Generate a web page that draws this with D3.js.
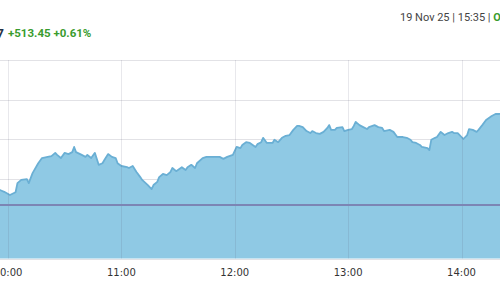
<!DOCTYPE html>
<html lang="en">
<head>
<meta charset="UTF-8">
<title>Intraday</title>
<script src="https://d3js.org/d3.v7.min.js"></script>
<style>
  body { margin: 0; background: #fff; }
  svg { display: block; }
</style>
</head>
<body>
<svg id="chart" width="500" height="300"></svg>
<script>
// ---- data ----
const times = ["09:54","09:56","09:58","10:01","10:04","10:05","10:07","10:10","10:11","10:13","10:16","10:18","10:21","10:23","10:25","10:26","10:28","10:30","10:32","10:34","10:35","10:36","10:39","10:41","10:42","10:44","10:46","10:48","10:50","10:51","10:53","10:55","10:57","10:58",
  "11:00","11:03","11:04","11:06","11:08","11:10","11:11","11:14","11:16","11:17","11:19","11:20","11:22","11:24","11:26","11:27","11:29","11:32","11:34","11:35","11:37","11:39","11:40","11:43","11:45","11:48","11:52","11:54","11:56","11:59",
  "12:01","12:03","12:04","12:06","12:08","12:11","12:12","12:14","12:15","12:17","12:20","12:21","12:23","12:25","12:27","12:29","12:31","12:33","12:34","12:36","12:38","12:40","12:41","12:43","12:45","12:47","12:49","12:50","12:51","12:53","12:54","12:57","12:58",
  "13:00","13:02","13:03","13:04","13:06","13:08","13:10","13:11","13:14","13:16","13:18","13:19","13:22","13:24","13:26","13:27","13:29","13:31","13:33","13:34","13:36","13:38","13:39","13:42","13:43","13:44","13:46","13:47","13:49","13:51","13:53","13:55","13:56","13:58",
  "14:01","14:03","14:04","14:06","14:08","14:09","14:11","14:13","14:16","14:18","14:20","14:22"];

const values = [84675,84672,84668,84660,84667,84690,84698,84700,84690,84715,84740,84753,84756,84758,84766,84761,84753,84766,84763,84768,84781,84768,84761,84756,84761,84753,84766,84736,84740,84748,84763,84756,84753,84740,
  84733,84730,84728,84733,84718,84705,84698,84685,84675,84685,84693,84705,84713,84710,84718,84728,84720,84730,84723,84730,84736,84728,84740,84753,84756,84756,84756,84751,84756,84761,
  84781,84778,84786,84793,84791,84781,84788,84793,84804,84791,84791,84799,84793,84804,84809,84811,84824,84834,84834,84831,84821,84816,84821,84816,84814,84819,84829,84836,84824,84824,84829,84831,84821,
  84824,84826,84834,84844,84836,84831,84826,84831,84836,84831,84829,84821,84824,84819,84806,84806,84806,84804,84799,84793,84791,84786,84781,84778,84773,84799,84804,84806,84819,84811,84816,84819,84816,84816,
  84801,84811,84826,84824,84819,84824,84836,84849,84859,84864,84864,84866];

const prevClose = 84635;
const hourTicks = ["10:00","11:00","12:00","13:00","14:00"];
const valueTicks = [84500, 84600, 84700, 84800, 84900, 85000];

const changeText = "+513.45 +0.61%";
const lastText = "85,186.47";
const stampText = "19 Nov 25 | 15:35 | ";
const statusText = "Open";

// ---- helpers ----
const parseTime = (t) => d3.timeParse("%Y-%m-%d %H:%M")("2025-11-19 " + t);

const points = times.map((t, i) => ({ t: parseTime(t), v: values[i] }));

// ---- scales ----
const x = d3.scaleTime()
  .domain([parseTime("10:00"), parseTime("14:00")])
  .range([8, 461.5]);

const y = d3.scaleLinear()
  .domain([84500, 85000])
  .range([258.5, 60]);

const svg = d3.select("#chart");
const plotTop = 60, plotBottom = 258.5;

// horizontal grid (behind the area)
svg.append("g").selectAll("line").data(valueTicks).join("line")
  .attr("x1", 0).attr("x2", 500)
  .attr("y1", d => Math.round(y(d)) + 0.5).attr("y2", d => Math.round(y(d)) + 0.5)
  .attr("stroke", "#e2e2e6").attr("stroke-width", 1);

// area + line
const area = d3.area()
  .x(d => x(d.t)).y0(plotBottom).y1(d => y(d.v));
const line = d3.line()
  .x(d => x(d.t)).y(d => y(d.v));

svg.append("path").datum(points)
  .attr("d", area)
  .attr("fill", "#8fc9e4");

svg.append("path").datum(points)
  .attr("d", line)
  .attr("fill", "none")
  .attr("stroke", "#6aafd4")
  .attr("stroke-width", 1.8)
  .attr("stroke-linejoin", "round");

// vertical grid (on top, faint)
svg.append("g").selectAll("line").data(hourTicks).join("line")
  .attr("x1", d => Math.round(x(parseTime(d))) + 0.5)
  .attr("x2", d => Math.round(x(parseTime(d))) + 0.5)
  .attr("y1", plotTop).attr("y2", plotBottom)
  .attr("stroke", "#5a5a78").attr("stroke-opacity", 0.14);

// previous close line
svg.append("line")
  .attr("x1", 0).attr("x2", 500)
  .attr("y1", y(prevClose)).attr("y2", y(prevClose))
  .attr("stroke", "#7c85b4").attr("stroke-width", 2);

// x-axis labels
svg.append("g").selectAll("text").data(hourTicks).join("text")
  .attr("x", d => x(parseTime(d)))
  .attr("y", 276)
  .attr("text-anchor", "middle")
  .attr("font-family", "DejaVu Sans, Verdana, sans-serif")
  .attr("font-size", 10)
  .attr("fill", "#333")
  .text(d => d);

// header
svg.append("text")
  .attr("x", 4).attr("y", 38)
  .attr("text-anchor", "end")
  .attr("font-family", "Roboto, sans-serif")
  .attr("font-weight", 700).attr("font-size", 13)
  .attr("fill", "#263245")
  .text(lastText);

svg.append("text")
  .attr("x", 8).attr("y", 37)
  .attr("font-family", "Roboto, sans-serif")
  .attr("font-weight", 700).attr("font-size", 11.5)
  .attr("fill", "#3a9c2e")
  .text(changeText);

const stamp = svg.append("text")
  .attr("x", 400).attr("y", 21)
  .attr("font-family", "Roboto, sans-serif")
  .attr("font-size", 11)
  .attr("fill", "#444");
stamp.append("tspan").text(stampText);
stamp.append("tspan").attr("fill", "#3a9c2e").attr("font-weight", 700).text(statusText);
</script>
</body>
</html>
